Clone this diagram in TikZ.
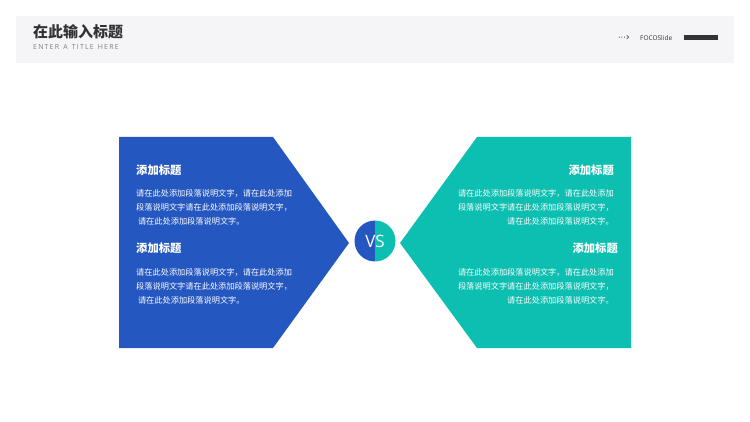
\documentclass[tikz,border=0pt]{standalone}
\usepackage{fontspec}
\setmainfont{Noto Sans CJK SC}
\newfontfamily\dvs{DejaVu Sans}
\newfontfamily\opens{Open Sans}
\definecolor{band}{HTML}{F5F5F7}
\definecolor{blu}{HTML}{2557C0}
\definecolor{tea}{HTML}{0CBFB0}
\definecolor{dk}{HTML}{333333}
\begin{document}
\begin{tikzpicture}[x=1pt,y=-1pt,
  head/.style={font=\fontsize{11.3}{12}\selectfont\bfseries,text=white,inner sep=0},
  body/.style={font=\fontsize{8.2}{14}\selectfont,text=white,inner sep=0,align=left}]
\useasboundingbox (0,0) rectangle (750,422);
\fill[white] (0,0) rectangle (750,422);
\fill[band] (16,16) rectangle (734,63);
\node[anchor=west,inner sep=0,font=\fontsize{15}{16}\selectfont\bfseries,text=dk] (t) at (33,32) {在此输入标题};
\node[anchor=west,inner sep=0,font=\opens\fontsize{7}{8}\selectfont,text=gray] (st) at (33,46.5) {E\,N\,T\,E\,R\, \,A\, \,T\,I\,T\,L\,E\, \,H\,E\,R\,E};
\node[inner sep=0,font=\dvs\fontsize{8}{8}\selectfont,text=dk] (ar) at (624,38) {···\raisebox{-0.5pt}{\fontsize{10}{10}\selectfont›}};
\node[anchor=west,inner sep=0,font=\opens\fontsize{6.5}{7}\selectfont,text=dk] (fo) at (640,38) {FOCOSlide};
\fill[dk] (684,35.5) rectangle (718,40.5);
\fill[blu] (119,137) -- (273,137) -- (349,243) -- (273,348) -- (119,348) -- cycle;
\fill[tea] (631,137) -- (477,137) -- (400,243) -- (477,348) -- (631,348) -- cycle;
\begin{scope}
\clip (375,241) circle (20.5);
\fill[blu] (354,220) rectangle (375,262);
\fill[tea] (375,220) rectangle (396,262);
\end{scope}
\node[inner sep=0,font=\opens\fontsize{17}{18}\selectfont,text=white] (vs) at (375,241) {VS};
\node[head,anchor=west] (h1) at (136,170) {添加标题};
\node[body,anchor=north west] (b1) at (136,189.5) {请在此处添加段落说明文字，请在此处添加\\段落说明文字请在此处添加段落说明文字，\\\ 请在此处添加段落说明文字。};
\node[head,anchor=west] (h2) at (136,248) {添加标题};
\node[body,anchor=north west] (b2) at (136,268.5) {请在此处添加段落说明文字，请在此处添加\\段落说明文字请在此处添加段落说明文字，\\\ 请在此处添加段落说明文字。};
\node[head,anchor=east] (h3) at (614,170) {添加标题};
\node[body,align=right,anchor=north east] (b3) at (614,189.5) {请在此处添加段落说明文字，请在此处添加\\段落说明文字请在此处添加段落说明文字，\\请在此处添加段落说明文字。};
\node[head,anchor=east] (h4) at (618,248) {添加标题};
\node[body,align=right,anchor=north east] (b4) at (614,268.5) {请在此处添加段落说明文字，请在此处添加\\段落说明文字请在此处添加段落说明文字，\\请在此处添加段落说明文字。};
\end{tikzpicture}
\end{document}
